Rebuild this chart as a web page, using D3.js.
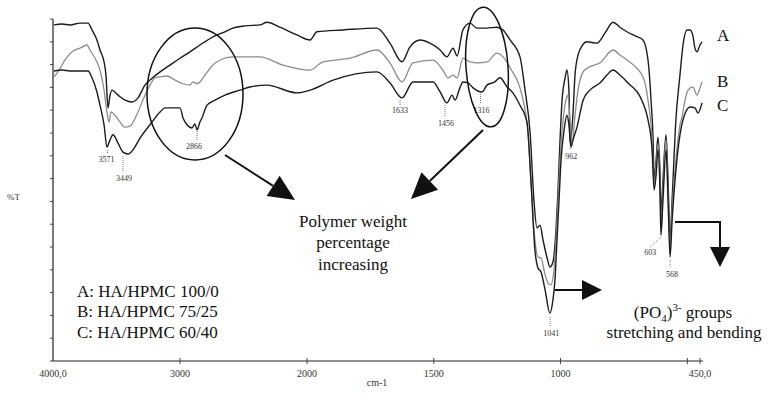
<!DOCTYPE html>
<html>
<head>
<meta charset="utf-8">
<script src="https://cdn.jsdelivr.net/npm/d3@7"></script>
<style>
  html, body { margin: 0; padding: 0; background: #fff; }
  svg { display: block; font-family: "Liberation Serif", "DejaVu Serif", serif; }
</style>
</head>
<body>
<div id="chart"></div>
<script>
// FTIR spectra, [wavenumber (cm-1), %T]
const specA = [
  [3992,73.7],[3929,73.9],[3866,73.7],[3787,74.1],[3724,74.1],[3693,72.6],[3654,70.4],[3630,68.2],
  [3598,65.6],[3583,62.7],[3567,55.5],[3551,58.3],[3535,59.4],[3488,58.3],[3433,57.2],[3378,56.8],
  [3331,57.7],[3276,60.5],[3236,61.6],[3157,63.4],[3079,64.9],[3000,66.4],[2921,67.8],[2843,69.3],
  [2740,71.1],[2646,72.2],[2583,73.0],[2488,73.5],[2370,73.7],[2315,74.3],[2213,73.2],[2079,71.5],
  [1988,70.4],[1961,72.2],[1858,72.6],[1724,73.0],[1673,69.7],[1625,65.6],[1594,68.9],[1554,70.4],
  [1515,69.7],[1475,68.2],[1448,66.7],[1424,68.6],[1408,66.9],[1385,72.6],[1357,74.1],[1330,73.0],
  [1290,73.0],[1251,73.2],[1227,72.6],[1199,70.4],[1160,66.7],[1140,59.4],[1120,50.0],[1105,35.3],
  [1093,29.2],[1081,29.8],[1069,26.5],[1053,22.6],[1042,20.6],[1030,21.7],[1018,28.7],[1010,37.5],
  [1002,48.5],[994,57.2],[982,62.1],[975,63.8],[967,59.4],[962,47.8],[951,54.2],[943,62.7],
  [931,67.1],[915,69.1],[896,70.0],[856,69.7],[825,71.9],[793,74.3],[766,73.2],[738,72.2],
  [706,71.3],[675,70.4],[655,66.0],[643,57.2],[635,48.5],[631,39.7],[623,44.1],[616,49.1],
  [608,41.9],[603,32.0],[596,39.7],[584,49.6],[576,39.7],[568,26.5],[560,35.3],[545,52.9],
  [529,62.7],[517,69.3],[501,72.6],[489,72.6],[478,71.3],[470,68.6],[462,67.8],[450,69.3],[442,70.0]
];
const specB = [
  [3992,62.3],[3961,63.4],[3906,66.0],[3850,67.8],[3787,68.6],[3732,69.3],[3709,68.2],[3669,66.4],
  [3630,63.8],[3598,59.4],[3575,54.6],[3559,52.4],[3543,54.6],[3512,53.9],[3472,52.4],[3433,51.3],
  [3394,51.5],[3331,54.6],[3276,58.3],[3236,60.5],[3197,62.1],[3157,62.3],[3102,62.5],[3039,61.6],
  [2976,60.8],[2921,60.5],[2898,61.2],[2866,60.8],[2843,61.2],[2803,62.7],[2740,64.9],[2685,66.0],
  [2583,66.7],[2488,66.7],[2370,66.7],[2189,64.9],[1988,63.8],[1937,65.6],[1830,66.4],[1724,68.2],
  [1673,65.4],[1625,61.2],[1582,65.4],[1503,66.0],[1464,63.8],[1444,62.1],[1424,62.7],[1408,62.1],
  [1385,66.4],[1357,65.6],[1326,65.4],[1290,65.6],[1251,67.5],[1227,66.7],[1199,64.3],[1148,57.2],
  [1128,49.6],[1117,39.7],[1101,26.5],[1089,22.8],[1077,22.6],[1061,18.9],[1049,17.1],[1038,16.7],
  [1026,20.0],[1018,26.5],[1010,35.3],[1002,44.1],[990,52.9],[979,57.2],[971,58.3],[963,52.9],
  [955,47.4],[943,53.9],[931,59.4],[911,63.4],[892,64.3],[844,65.4],[793,68.2],[766,67.1],
  [738,66.0],[675,62.3],[655,57.2],[639,48.5],[631,38.6],[623,43.0],[616,47.4],[608,39.7],
  [604,29.8],[596,37.5],[584,48.5],[576,37.5],[568,24.3],[560,33.1],[545,44.1],[529,51.8],
  [521,53.5],[509,57.2],[497,59.4],[478,60.1],[462,58.3],[450,59.9],[442,61.2]
];
const specC = [
  [3992,63.6],[3929,63.8],[3866,63.6],[3787,63.6],[3724,63.6],[3693,62.1],[3654,59.0],[3630,56.1],
  [3598,51.8],[3575,46.9],[3551,48.5],[3528,49.6],[3488,47.8],[3449,45.8],[3409,45.4],[3370,46.3],
  [3315,48.9],[3236,51.8],[3157,54.6],[3118,55.5],[3039,55.5],[3000,55.5],[2976,53.3],[2945,51.8],
  [2906,51.1],[2882,52.0],[2866,50.7],[2843,52.4],[2827,53.3],[2787,56.1],[2724,57.2],[2646,58.3],
  [2528,59.4],[2449,60.1],[2315,60.5],[2079,58.8],[1988,59.4],[1897,61.6],[1724,63.4],[1673,61.0],
  [1625,57.7],[1582,61.2],[1503,61.2],[1475,59.0],[1448,56.6],[1428,58.3],[1416,57.2],[1397,59.9],
  [1385,61.2],[1365,61.0],[1345,59.9],[1310,59.0],[1290,60.5],[1259,61.2],[1239,62.1],[1211,60.1],
  [1188,58.8],[1160,56.1],[1132,52.2],[1117,39.7],[1101,24.3],[1089,20.4],[1077,19.5],[1061,15.6],
  [1042,10.5],[1030,13.4],[1022,17.8],[1014,26.5],[1006,35.3],[998,44.1],[986,50.7],[975,53.9],
  [967,51.8],[959,46.9],[951,48.5],[935,51.3],[911,57.2],[884,59.4],[844,61.0],[817,62.7],
  [793,63.8],[766,62.7],[738,61.2],[675,56.6],[655,52.9],[639,46.3],[631,37.5],[623,40.8],
  [616,46.3],[608,37.5],[604,27.6],[596,35.3],[584,46.3],[576,35.3],[568,22.8],[560,30.9],
  [545,41.9],[529,49.6],[517,52.9],[489,55.7],[470,55.5],[458,54.4],[442,56.6]
];

const seriesNames = ['A', 'B', 'C'];
const legendLines = ['A: HA/HPMC 100/0', 'B: HA/HPMC 75/25', 'C: HA/HPMC 60/40'];
const xTickValues = [3000, 2000, 1500, 1000, 500, 450];
const xTickLabels = { 4000: '4000,0', 3000: '3000', 2000: '2000', 1500: '1500', 1000: '1000', 450: '450,0' };
const yTickValues = d3.range(0, 76, 5);
// marked bands: wavenumber, label
const peakNames = [[3571, '3571'], [3449, '3449'], [2866, '2866'], [1633, '1633'], [1456, '1456'],
  [1316, '1316'], [962, '962'], [1041, '1041'], [603, '603'], [568, '568']];

const W = 773, H = 393;
const svg = d3.select('#chart').append('svg')
  .attr('width', W).attr('height', H)
  .style('background', '#fff');

// FTIR axis: scale doubles below 2000 cm-1
const x = d3.scaleLinear().domain([4000, 2000, 450]).range([53, 307, 700]);
const y = d3.scaleLinear().domain([0, 75]).range([361, 19]);

// axes
svg.append('line').attr('x1', 53).attr('x2', 703).attr('y1', 361).attr('y2', 361)
  .attr('stroke', '#222').attr('stroke-width', 1.2);
svg.append('line').attr('x1', 53).attr('x2', 53).attr('y1', 19).attr('y2', 361)
  .attr('stroke', '#222').attr('stroke-width', 1.2);

svg.selectAll('.ytick').data(yTickValues).join('line')
  .attr('x1', 50).attr('x2', 53)
  .attr('y1', d => y(d)).attr('y2', d => y(d))
  .attr('stroke', '#444').attr('stroke-width', 1);

svg.selectAll('.xtick').data(xTickValues).join('line')
  .attr('x1', d => x(d)).attr('x2', d => x(d))
  .attr('y1', 358).attr('y2', 364)
  .attr('stroke', '#444').attr('stroke-width', 1);

svg.selectAll('.xlab').data(Object.keys(xTickLabels).map(Number)).join('text')
  .attr('x', d => x(d)).attr('y', 377)
  .attr('text-anchor', 'middle')
  .attr('font-size', 10).attr('fill', '#333')
  .text(d => xTickLabels[d]);

svg.append('text').attr('x', 377).attr('y', 386).attr('text-anchor', 'middle')
  .attr('font-size', 10).attr('fill', '#333').text('cm-1');
svg.append('text').attr('x', 7).attr('y', 200)
  .attr('font-size', 9).attr('fill', '#333').text('%T');

// spectra
const line = d3.line().x(d => x(d[0])).y(d => y(d[1])).curve(d3.curveMonotoneX);
const styles = [
  { color: '#1c1c1c', width: 1.4 },
  { color: '#8c8c8c', width: 1.3 },
  { color: '#1c1c1c', width: 1.4 }
];
[specA, specB, specC].forEach((s, i) => {
  svg.append('path').datum(s)
    .attr('fill', 'none')
    .attr('stroke', styles[i].color)
    .attr('stroke-width', styles[i].width)
    .attr('stroke-linejoin', 'round')
    .attr('d', line);
});

// series letters at the right end
const ends = [specA, specB, specC].map(s => s[s.length - 1]);
svg.selectAll('.slab').data(seriesNames).join('text')
  .attr('x', 717)
  .attr('y', (d, i) => [41, 87, 111][i])
  .attr('font-size', 17).attr('fill', '#111')
  .text(d => d);

// peak labels with dotted leaders
const peakLayout = {
  '3571': { top: 150, bot: 154, base: 162, dx: -1 },
  '3449': { top: 156, bot: 172, base: 181, dx: 1 },
  '2866': { top: 131, bot: 141, base: 149, dx: -3 },
  '1633': { top: 100, bot: 105, base: 113, dx: 0 },
  '1456': { top: 105, bot: 117, base: 126, dx: 1 },
  '1316': { top: 94, bot: 104, base: 113, dx: 1 },
  '962':  { top: 146, bot: 150, base: 159, dx: 1 },
  '1041': { top: 317, bot: 327, base: 336, dx: 1 },
  '603':  { top: 237, bot: 247, base: 255, dx: -11 },
  '568':  { top: 260, bot: 268, base: 277, dx: 2 }
};
const peaks = svg.append('g');
peakNames.forEach(([w, label]) => {
  const p = peakLayout[label];
  const px = x(w);
  peaks.append('line')
    .attr('x1', px).attr('x2', px + (p.dx < -5 ? p.dx : 0))
    .attr('y1', p.top).attr('y2', p.bot)
    .attr('stroke', '#555').attr('stroke-width', 0.8)
    .attr('stroke-dasharray', '1,1');
  peaks.append('text')
    .attr('x', px + p.dx).attr('y', p.base)
    .attr('text-anchor', 'middle')
    .attr('font-size', 8).attr('fill', '#333')
    .text(label);
});

// annotation ellipses
svg.append('ellipse').attr('cx', 195).attr('cy', 94).attr('rx', 48).attr('ry', 66)
  .attr('fill', 'none').attr('stroke', '#111').attr('stroke-width', 1.5);
svg.append('ellipse').attr('cx', 487).attr('cy', 67).attr('rx', 21).attr('ry', 60)
  .attr('transform', 'rotate(-4,487,67)')
  .attr('fill', 'none').attr('stroke', '#111').attr('stroke-width', 1.5);

// arrows
function arrow(points, headLen, headHalf) {
  const [tx, ty] = points[points.length - 1];
  const [px, py] = points[points.length - 2];
  const a = Math.atan2(ty - py, tx - px);
  const bx = tx - headLen * Math.cos(a), by = ty - headLen * Math.sin(a);
  const pts = points.slice(0, -1).concat([[bx, by]]);
  svg.append('path').attr('d', d3.line()(pts))
    .attr('fill', 'none').attr('stroke', '#111').attr('stroke-width', 2);
  const nx = -Math.sin(a) * headHalf, ny = Math.cos(a) * headHalf;
  svg.append('path')
    .attr('d', `M${tx},${ty}L${bx + nx},${by + ny}L${bx - nx},${by - ny}Z`)
    .attr('fill', '#111');
}
arrow([[225, 155], [295, 200]], 26, 12);
arrow([[483, 130], [411, 199]], 26, 12);
arrow([[555, 290], [602, 290]], 20, 10);
arrow([[675, 222], [720, 222], [720, 267]], 20, 10);

// texts
const txt = svg.append('g').attr('fill', '#111').attr('font-size', 17);
['Polymer weight', 'percentage', 'increasing'].forEach((t, i) => {
  txt.append('text').attr('x', 353).attr('y', [227, 248, 270][i])
    .attr('text-anchor', 'middle').text(t);
});
legendLines.forEach((t, i) => {
  txt.append('text').attr('x', 77).attr('y', [297, 317, 338][i]).text(t);
});
const po = txt.append('text').attr('x', 683).attr('y', 318).attr('text-anchor', 'middle');
po.append('tspan').text('(PO');
po.append('tspan').attr('font-size', 11).attr('dy', 4).text('4');
po.append('tspan').attr('dy', -4).text(')');
po.append('tspan').attr('font-size', 11).attr('dy', -7).text('3-');
po.append('tspan').attr('dy', 7).text(' groups');
txt.append('text').attr('x', 684).attr('y', 338).attr('text-anchor', 'middle')
  .text('stretching and bending');
</script>
</body>
</html>
